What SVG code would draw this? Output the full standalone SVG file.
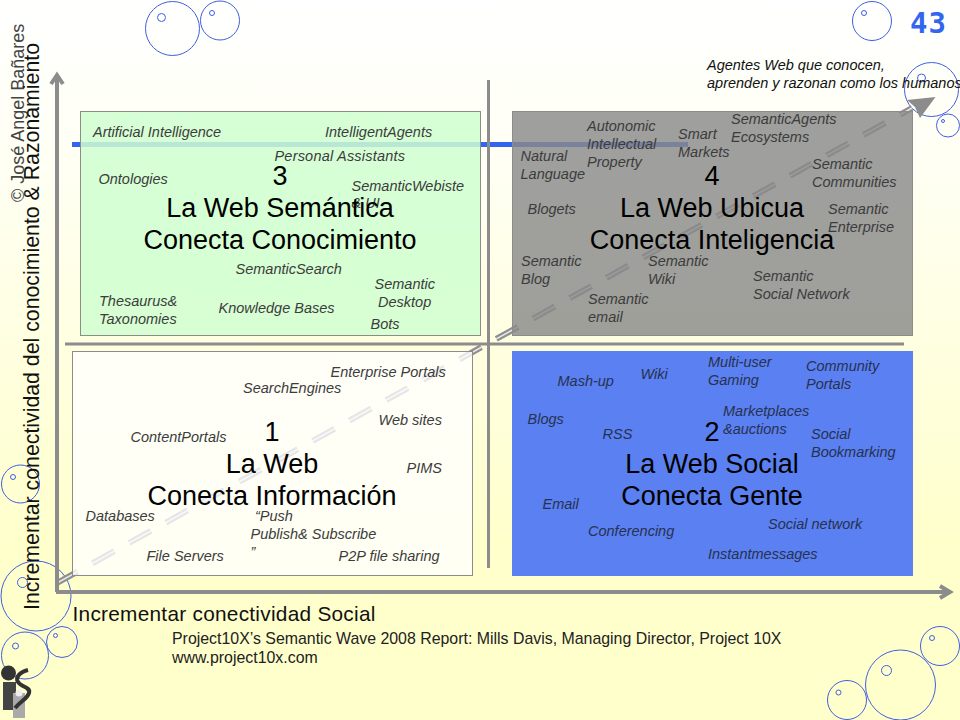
<svg xmlns="http://www.w3.org/2000/svg" width="960" height="720" viewBox="0 0 960 720">
<style>
text{font-family:"Liberation Sans",Arial,sans-serif}
.l{font-size:14.500px;font-style:italic;fill:#3c3c3c;transform:translateY(1px)}
.d{fill:#26324f}
.t{font-size:27px;fill:#000;text-anchor:middle}
.b{fill:none;stroke:#3f5fe0;stroke-width:1}
.ax{fill:none;stroke:#8c8c8c;stroke-width:4}
.sh{fill:none;stroke:#8c8c8c;stroke-width:3}
.da{fill:none;stroke:#8f8f8f;stroke-width:6;stroke-dasharray:25 17;stroke-dashoffset:1.500}
.dw{fill:none;stroke:#fff;stroke-opacity:.8;stroke-width:1.500;stroke-dasharray:25 17;stroke-dashoffset:1.500}
</style>
<defs>
<linearGradient id="bg" x1="0" y1="0" x2="0" y2="1">
<stop offset="0" stop-color="#fff"/><stop offset=".25" stop-color="#fffff2"/><stop offset=".75" stop-color="#ffffcc"/><stop offset="1" stop-color="#ffffcc"/>
</linearGradient>
</defs>
<rect width="960" height="720" fill="url(#bg)"/>
<g id="bubbles" class="b">
<circle cx="172.500" cy="28.500" r="27"/><circle cx="161.500" cy="17.500" r="4"/>
<circle cx="220" cy="20.500" r="19.500"/><circle cx="212" cy="13" r="2.500"/>
<circle cx="872" cy="21" r="19.500"/><circle cx="864" cy="13" r="2.500"/>
<circle cx="931.500" cy="89.500" r="27"/><circle cx="921.500" cy="78" r="4"/>
<circle cx="948" cy="125.500" r="11.500"/><circle cx="943" cy="121" r="1.500"/>
<circle cx="20.500" cy="484" r="19"/><circle cx="13" cy="477" r="2.500"/>
<circle cx="36" cy="596" r="35"/><circle cx="22.500" cy="582.500" r="5"/>
<circle cx="25" cy="655.500" r="23.500"/><circle cx="15.500" cy="646" r="3"/>
<circle cx="62" cy="642" r="15.500"/><circle cx="55.500" cy="635.500" r="2"/>
<circle cx="940" cy="646" r="19.500"/><circle cx="932" cy="638" r="2.500"/>
<circle cx="900.500" cy="685" r="35"/><circle cx="886.500" cy="670.500" r="5"/>
<circle cx="847" cy="700" r="19.500"/><circle cx="838.500" cy="692.500" r="2.500"/>
</g>
<g id="connectors">
<rect x="72" y="142" width="616" height="5" fill="#3366ee"/>
<path class="da" d="M57 583L912 108"/>
<path class="dw" d="M57 583L912 108"/>
<path d="M935.500 97L907 100L915 107L920 118Z" fill="#8c8c8c"/>
</g>
<g id="q3">
<rect x="80.500" y="111.500" width="400" height="224" fill="#d0ffd0" fill-opacity=".85" stroke="#8c8c8c"/>
<text class="l" x="93" y="136">Artificial Intelligence</text>
<text class="l" x="325" y="136">IntelligentAgents</text>
<text class="l" x="274.500" y="160" letter-spacing=".2">Personal Assistants</text>
<text class="l" x="98.500" y="183">Ontologies</text>
<text class="l" x="351.500" y="190">SemanticWebiste</text>
<text class="l" x="351.500" y="207">&amp; UI</text>
<text class="t" x="280" y="185">3</text>
<text class="t" x="280" y="217">La Web Semántica</text>
<text class="t" x="280" y="249">Conecta Conocimiento</text>
<text class="l" x="235.500" y="273">SemanticSearch</text>
<text class="l" x="374.500" y="288">Semantic</text>
<text class="l" x="378" y="306">Desktop</text>
<text class="l" x="99" y="305">Thesaurus&amp;</text>
<text class="l" x="99" y="323">Taxonomies</text>
<text class="l" x="218.500" y="312">Knowledge Bases</text>
<text class="l" x="370.500" y="328">Bots</text>
</g>
<g id="q4">
<rect x="512.500" y="111.500" width="400" height="224" fill="#8a8a8a" fill-opacity=".82" stroke="#8c8c8c"/>
<text class="l" x="587" y="130">Autonomic</text>
<text class="l" x="587" y="148">Intellectual</text>
<text class="l" x="587" y="166">Property</text>
<text class="l" x="678" y="138">Smart</text>
<text class="l" x="678" y="156">Markets</text>
<text class="l" x="731" y="123">SemanticAgents</text>
<text class="l" x="731" y="141">Ecosystems</text>
<text class="l" x="520.500" y="160">Natural</text>
<text class="l" x="520.500" y="178">Language</text>
<text class="l" x="812" y="168">Semantic</text>
<text class="l" x="812" y="186">Communities</text>
<text class="l" x="527.500" y="213">Blogets</text>
<text class="l" x="828" y="213">Semantic</text>
<text class="l" x="828" y="231">Enterprise</text>
<text class="t" x="712" y="185">4</text>
<text class="t" x="712" y="217">La Web Ubicua</text>
<text class="t" x="712" y="249">Conecta Inteligencia</text>
<text class="l" x="521" y="265">Semantic</text>
<text class="l" x="521" y="283">Blog</text>
<text class="l" x="648" y="265">Semantic</text>
<text class="l" x="648" y="283">Wiki</text>
<text class="l" x="753" y="280">Semantic</text>
<text class="l" x="753" y="298">Social Network</text>
<text class="l" x="588" y="303">Semantic</text>
<text class="l" x="588" y="321">email</text>
</g>
<g id="q1">
<rect x="72.500" y="351.500" width="400" height="224" fill="#ffffff" fill-opacity=".78" stroke="#8c8c8c"/>
<text class="l" x="330.500" y="376">Enterprise Portals</text>
<text class="l" x="243" y="392">SearchEngines</text>
<text class="l" x="378.500" y="424">Web sites</text>
<text class="l" x="130.500" y="441">ContentPortals</text>
<text class="l" x="406.500" y="472">PIMS</text>
<text class="t" x="272" y="441">1</text>
<text class="t" x="272" y="473">La Web</text>
<text class="t" x="272" y="505">Conecta Información</text>
<text class="l" x="85.500" y="520">Databases</text>
<text class="l" x="255" y="520">“Push</text>
<text class="l" x="250.500" y="538">Publish&amp; Subscribe</text>
<text class="l" x="250.500" y="556">”</text>
<text class="l" x="146.500" y="560">File Servers</text>
<text class="l" x="338.500" y="560">P2P file sharing</text>
</g>
<g id="q2">
<rect x="512" y="351" width="401" height="225" fill="#5b80f2"/>
<text class="l d" x="708" y="366">Multi-user</text>
<text class="l d" x="708" y="384">Gaming</text>
<text class="l d" x="806" y="370">Community</text>
<text class="l d" x="806" y="388">Portals</text>
<text class="l d" x="557.500" y="385">Mash-up</text>
<text class="l d" x="640.500" y="378">Wiki</text>
<text class="l d" x="723" y="415">Marketplaces</text>
<text class="l d" x="723" y="433">&amp;auctions</text>
<text class="l d" x="527.500" y="423">Blogs</text>
<text class="l d" x="602.500" y="438">RSS</text>
<text class="l d" x="811" y="438">Social</text>
<text class="l d" x="811" y="456">Bookmarking</text>
<text class="t" x="712" y="441">2</text>
<text class="t" x="712" y="473">La Web Social</text>
<text class="t" x="712" y="505">Conecta Gente</text>
<text class="l d" x="542.500" y="508">Email</text>
<text class="l d" x="588" y="535">Conferencing</text>
<text class="l d" x="768" y="528">Social network</text>
<text class="l d" x="708" y="558">Instantmessages</text>
</g>
<g id="axes">
<path class="ax" d="M57 592V76M51 84L57 75L63 84"/>
<path class="ax" d="M56 592H950M940 586L950 592L940 598"/>
<path class="sh" d="M65 344H904"/>
<path class="sh" d="M488.500 80V568"/>
</g>
<g id="labels">
<text x="910" y="33" font-size="29" font-weight="bold" letter-spacing="1" style="font-family:'DejaVu Sans Mono',monospace" fill="#3366ee">43</text>
<text class="l" x="707" y="69" style="fill:#111">Agentes Web que conocen,</text>
<text class="l" x="707" y="87" style="fill:#111">aprenden y razonan como los humanos</text>
<text x="24" y="202" font-size="18" fill="#444" transform="rotate(-90 24 202)">© José Angel Bañares</text>
<text x="39" y="610" font-size="21.300" fill="#111" transform="rotate(-90 39 610)">Incrementar conectividad del conocimiento &amp; Razonamiento</text>
<text x="72.500" y="621" font-size="20.800" letter-spacing=".27" fill="#111">Incrementar conectividad Social</text>
<text x="172" y="644" font-size="15.900" fill="#222">Project10X’s Semantic Wave 2008 Report: Mills Davis, Managing Director, Project 10X</text>
<text x="172" y="663" font-size="15.900" fill="#222">www.project10x.com</text>
</g>
<g id="logo">
<circle cx="8.500" cy="673" r="7.500" fill="#333"/>
<rect x="3" y="682" width="13" height="28" fill="#444"/>
<rect x="13" y="693" width="12" height="25" fill="#aaa"/>
<path d="M28 670C20 672 15 677 18 682C21 687 31 687 29 693C27 699 22 700 15 708" fill="none" stroke="#333" stroke-width="4"/>
<circle cx="19" cy="693" r="3.500" fill="#eee"/>
</g>
</svg>
